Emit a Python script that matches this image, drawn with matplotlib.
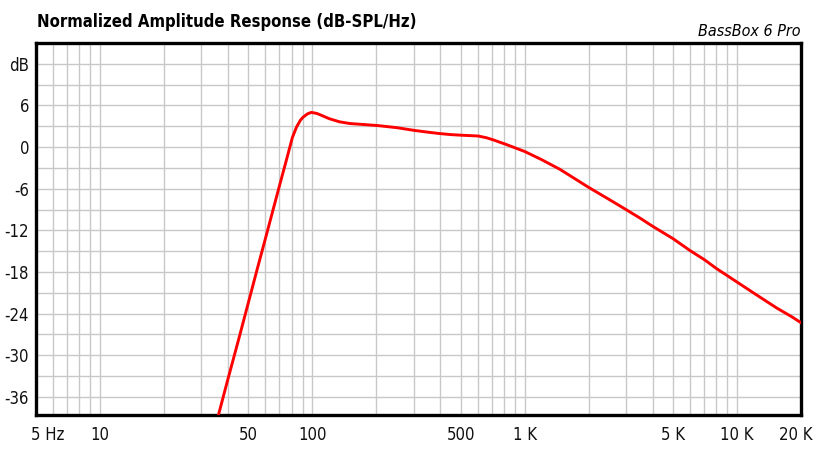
import numpy as np
import matplotlib
matplotlib.use("Agg")
import matplotlib.pyplot as plt
import matplotlib.transforms as mtransforms
from matplotlib import font_manager
from matplotlib.ticker import FixedLocator, NullFormatter

# narrow face like the reference if one is installed
font_names = {f.name for f in font_manager.fontManager.ttflist}
narrow = [f.name for f in font_manager.fontManager.ttflist
          if "Narrow" in f.name or "Condensed" in f.name or f.stretch in ("condensed", "semi-condensed")]
if "Liberation Sans Narrow" in font_names:
    plt.rcParams["font.family"] = ["Liberation Sans Narrow", "DejaVu Sans"]
elif narrow:
    plt.rcParams["font.family"] = [narrow[0], "DejaVu Sans"]
    plt.rcParams["font.stretch"] = "condensed"
else:
    plt.rcParams["font.family"] = ["Liberation Sans", "DejaVu Sans"]

# ==============================================
# DATA

freq_hz = [34, 36, 40, 45, 50, 55, 60, 65, 70, 75, 80.6, 84.3, 88, 90.4, 95, 99, 105,
           110, 120, 134, 150, 175, 204, 250, 303, 350, 398, 450, 513, 604, 660,
           710, 764, 807, 900, 1003, 1200, 1465, 2000, 2500, 3000, 3500, 4000, 5000,
           6000, 7000, 8000, 10000, 12500, 15400, 18000, 20000]
level_db = [-41.7, -38.8, -33.5, -27.7, -22.4, -17.6, -13.3, -9.3, -5.6, -2.2, 1.4, 2.9,
            3.9, 4.3, 4.8, 5.0, 4.85, 4.6, 4.1, 3.65, 3.4, 3.25, 3.1, 2.8, 2.4, 2.15, 1.95,
            1.8, 1.7, 1.6, 1.35, 1.05, 0.7, 0.45, -0.1, -0.65, -1.8, -3.2, -5.8, -7.55,
            -9.0, -10.25, -11.4, -13.2, -14.9, -16.2, -17.5, -19.45, -21.4, -23.2, -24.4,
            -25.3]

x_tick_values = [5, 10, 50, 100, 500, 1000, 5000, 10000, 20000]
x_tick_labels = ["5 Hz", "10", "50", "100", "500", "1 K", "5 K", "10 K", "20 K"]

y_tick_values = [12, 6, 0, -6, -12, -18, -24, -30, -36]
y_tick_labels = ["dB", "6", "0", "-6", "-12", "-18", "-24", "-30", "-36"]

title = "Normalized Amplitude Response (dB-SPL/Hz)"
brand = "BassBox 6 Pro"

# ==============================================
# PLOT

fig = plt.figure(figsize=(8.18, 4.5), dpi=100)
ax = fig.add_axes([36 / 818, 1 - 415 / 450, 765 / 818, 372 / 450])

ax.plot(freq_hz, level_db, color="#ff0000", linewidth=2.1, zorder=3)

ax.set_xscale("log")
ax.set_xlim(5, 20000)
ax.set_ylim(-38.6, 15)

# grid at every integer multiple of each decade, every 3 dB
minor_x = [m * 10 ** d for d in range(0, 5) for m in range(1, 10) if 5 <= m * 10 ** d <= 20000]
ax.xaxis.set_minor_locator(FixedLocator(minor_x))
ax.xaxis.set_minor_formatter(NullFormatter())
ax.set_xticks(x_tick_values)
ax.set_xticklabels(x_tick_labels)
ax.yaxis.set_minor_locator(FixedLocator(np.arange(-36, 13, 3)))
ax.set_yticks(y_tick_values)
ax.set_yticklabels(y_tick_labels)

ax.grid(which="both", color="#c8c8c8", linewidth=1.0, zorder=0)
ax.tick_params(which="both", length=0, labelsize=12, colors="#111111")
ax.tick_params(axis="x", pad=8)
ax.tick_params(axis="y", pad=5)

# edge labels are kept inside the picture
labels = ax.get_xticklabels()
labels[0].set_horizontalalignment("left")
labels[0].set_transform(labels[0].get_transform() + mtransforms.ScaledTranslation(-5 / 100, 0, fig.dpi_scale_trans))
labels[-1].set_horizontalalignment("right")
labels[-1].set_transform(labels[-1].get_transform() + mtransforms.ScaledTranslation(12 / 100, 0, fig.dpi_scale_trans))

for spine in ax.spines.values():
    spine.set_linewidth(2.4)
    spine.set_color("black")

fig.text(37 / 818, 1 - 22 / 450, title, fontsize=12, fontweight="bold", va="center", ha="left")
fig.text(801 / 818, 1 - 32 / 450, brand, fontsize=11.5, style="italic", va="center", ha="right")

fig.savefig("out.png", dpi=100, facecolor="white")
